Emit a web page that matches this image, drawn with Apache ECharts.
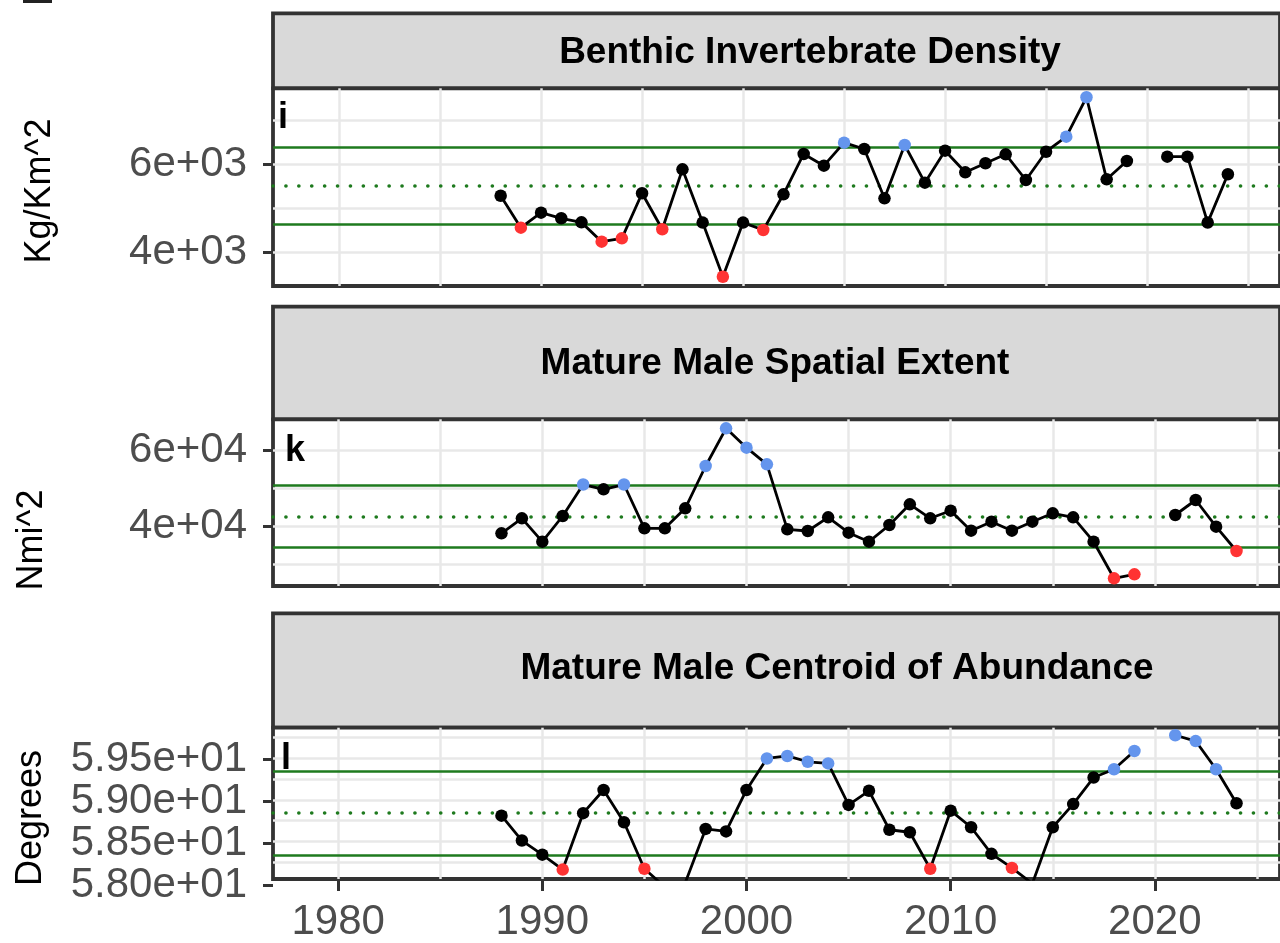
<!DOCTYPE html>
<html>
<head>
<meta charset="utf-8">
<title>Indicators</title>
<script src="https://cdn.jsdelivr.net/npm/echarts@6/dist/echarts.min.js"></script>
<style>
  html, body { margin: 0; padding: 0; background: #ffffff; }
  #chart { width: 1280px; height: 943px; }
</style>
</head>
<body>
<div id="chart"></div>
<script>
// ---- data ---------------------------------------------------------------
const years = [1988, 1989, 1990, 1991, 1992, 1993, 1994, 1995, 1996, 1997,
               1998, 1999, 2000, 2001, 2002, 2003, 2004, 2005, 2006, 2007,
               2008, 2009, 2010, 2011, 2012, 2013, 2014, 2015, 2016, 2017,
               2018, 2019, 2020, 2021, 2022, 2023, 2024];

// Benthic invertebrate density (kg/km^2); no survey in 2020
const benthicDensity = [5286, 4559, 4900, 4773, 4680, 4241, 4318, 5341, 4523, 5886,
                        4675, 3445, 4675, 4507, 5318, 6234, 5968, 6491, 6348, 5227,
                        6439, 5582, 6309, 5818, 6023, 6227, 5643, 6286, 6627, 7523,
                        5659, 6075, null, 6173, 6173, 4675, 5773];

// Mature male spatial extent (nmi^2)
const spatialExtent = [38263, 42210, 36053, 42816, 51100, 49842, 51100, 39579, 39579, 44842,
                       55974, 65895, 60790, 56421, 39316, 38868, 42474, 38421, 36053, 40447,
                       45895, 42210, 44210, 38947, 41316, 38947, 41316, 43526, 42474, 36053,
                       26421, 27474, null, 43079, 47026, 40000, 33605];

// Mature male centroid of abundance (degrees latitude)
const centroidLat = [58.81, 58.51, 58.34, 58.16, 58.84, 59.12, 58.73, 58.17, 57.95, 58.00,
                     58.65, 58.62, 59.12, 59.50, 59.53, 59.46, 59.44, 58.94, 59.11, 58.64,
                     58.61, 58.17, 58.87, 58.67, 58.35, 58.18, 57.99, 58.67, 58.95, 59.27,
                     59.37, 59.59, null, 59.78, 59.71, 59.37, 58.96];

// Reference lines: [mean - 1 SD, mean, mean + 1 SD]
const benthicLimits  = [4643, 5507, 6377];
const spatialLimits  = [34700, 42650, 50900];
const centroidLimits = [58.325, 58.84, 59.355];

// Tick labels and grid lines
const xLabelYears = [1980, 1990, 2000, 2010, 2020];
const xGridYears  = [1980, 1985, 1990, 1995, 2000, 2005, 2010, 2015, 2020, 2025];
const benthicTicks  = [4000, 6000];
const benthicGrid   = [4000, 5000, 6000, 7000];
const spatialTicks  = [40000, 60000];
const spatialGrid   = [30000, 40000, 50000, 60000];
const centroidTicks = [58.0, 58.5, 59.0, 59.5];
const centroidGrid  = [58.25, 58.5, 58.75, 59.0, 59.25, 59.5, 59.75];

// ---- styling ------------------------------------------------------------
const FONT = '"Liberation Sans", Arial, Helvetica, sans-serif';
const COL_ABOVE = '#6495ED';
const COL_BELOW = '#FF3333';
const COL_MID = '#000000';
const COL_REF = '#1E7A1E';
const COL_BORDER = '#333333';
const COL_GRID = '#E8E8E8';
const COL_TICKTEXT = '#4D4D4D';

// ggplot-style scientific labels: 6e+03, 5.95e+01
function sci(v, digits) {
  const parts = Number(v).toExponential(digits).split('e');
  const sign = parts[1][0] === '-' ? '-' : '+';
  const ex = String(Math.abs(parseInt(parts[1], 10))).padStart(2, '0');
  return parts[0] + 'e' + sign + ex;
}

const panels = [
  {
    title: 'Benthic Invertebrate Density', letter: 'i', yName: 'Kg/Km^2',
    values: benthicDensity, limits: benthicLimits,
    ticks: benthicTicks, gridVals: benthicGrid, digits: 0,
    yRange: [3234, 7727], xRange: [1976.73, 2026.58],
    strip: [13.3, 88.3], plot: [88.3, 286],
    titlePos: [810, 53], letterPos: [278, 118], namePos: [40, 191]
  },
  {
    title: 'Mature Male Spatial Extent', letter: 'k', yName: 'Nmi^2',
    values: spatialExtent, limits: spatialLimits,
    ticks: spatialTicks, gridVals: spatialGrid, digits: 0,
    yRange: [24395, 68263], xRange: [1976.81, 2026.13],
    strip: [306.7, 419.3], plot: [419.3, 586],
    titlePos: [775, 364], letterPos: [285, 451], namePos: [32, 540]
  },
  {
    title: 'Mature Male Centroid of Abundance', letter: 'l', yName: 'Degrees',
    values: centroidLat, limits: centroidLimits,
    ticks: centroidTicks, gridVals: centroidGrid, digits: 2,
    yRange: [58.046, 59.871], xRange: [1976.81, 2026.13],
    // the tick labels of this panel run down to 58.0, just past the clipped frame
    labelRange: [58.0, 59.871], labelBottom: 885.7,
    strip: [613.3, 727.7], plot: [727.7, 882],
    titlePos: [837, 669], letterPos: [281, 759], namePos: [31, 818]
  }
];

const PANEL_LEFT = 273;
const PANEL_RIGHT = -4;   // frames continue past the right edge

const grids = [], xAxes = [], yAxes = [], series = [], graphics = [];

function hiddenAxes(gridIndex) {
  xAxes.push({ gridIndex, type: 'value', show: false, min: 0, max: 1 });
  yAxes.push({ gridIndex, type: 'value', show: false, min: 0, max: 1 });
}

function pointColor(v, lim) {
  if (v > lim[2]) return COL_ABOVE;
  if (v < lim[0]) return COL_BELOW;
  return COL_MID;
}

const tickLabelStyle = {
  fontFamily: FONT, fontSize: 42, color: COL_TICKTEXT
};

panels.forEach((p, pi) => {
  // strip header
  const stripIdx = grids.length;
  grids.push({
    left: PANEL_LEFT, right: PANEL_RIGHT, top: p.strip[0], height: p.strip[1] - p.strip[0],
    show: true, backgroundColor: '#D9D9D9', borderColor: COL_BORDER, borderWidth: 3.8
  });
  hiddenAxes(stripIdx);

  // plotting area
  const plotIdx = grids.length;
  grids.push({
    left: PANEL_LEFT, right: PANEL_RIGHT, top: p.plot[0], height: p.plot[1] - p.plot[0],
    show: true, backgroundColor: '#FFFFFF', borderColor: COL_BORDER, borderWidth: 3.8
  });

  const xGridAxis = xAxes.length;
  xAxes.push({
    gridIndex: plotIdx, type: 'value', position: 'bottom',
    min: p.xRange[0], max: p.xRange[1],
    axisLine: { show: false },
    axisTick: { show: false, customValues: xGridYears },
    axisLabel: { show: false },
    splitLine: { show: true, lineStyle: { color: COL_GRID, width: 2.5 } }
  });
  const yGridAxis = yAxes.length;
  yAxes.push({
    gridIndex: plotIdx, type: 'value', position: 'left',
    min: p.yRange[0], max: p.yRange[1],
    axisLine: { show: false },
    axisTick: { show: false, customValues: p.gridVals },
    axisLabel: { show: false },
    splitLine: { show: true, lineStyle: { color: COL_GRID, width: 2.5 } }
  });

  // y tick marks + labels
  let labelGrid = plotIdx, labelRange = p.yRange;
  if (p.labelRange) {
    labelGrid = grids.length;
    grids.push({
      left: PANEL_LEFT, right: PANEL_RIGHT, top: p.plot[0], height: p.labelBottom - p.plot[0],
      show: false
    });
    xAxes.push({ gridIndex: labelGrid, type: 'value', show: false, min: 0, max: 1 });
    labelRange = p.labelRange;
  }
  yAxes.push({
    gridIndex: labelGrid, type: 'value', position: 'left',
    min: labelRange[0], max: labelRange[1],
    axisLine: { show: false },
    axisTick: { show: true, inside: false, length: 10, customValues: p.ticks,
                lineStyle: { color: COL_BORDER, width: 3 } },
    axisLabel: Object.assign({
      show: true, margin: 26, customValues: p.ticks,
      formatter: (v) => sci(v, p.digits)
    }, tickLabelStyle),
    splitLine: { show: false }
  });

  // shared year axis under the last panel
  if (pi === panels.length - 1) {
    xAxes.push({
      gridIndex: plotIdx, type: 'value', position: 'bottom',
      min: p.xRange[0], max: p.xRange[1],
      axisLine: { show: false },
      axisTick: { show: true, inside: false, length: 12, customValues: xLabelYears,
                  lineStyle: { color: COL_BORDER, width: 3 } },
      axisLabel: Object.assign({
        show: true, margin: 22, customValues: xLabelYears,
        formatter: (v) => String(Math.round(v))
      }, tickLabelStyle),
      splitLine: { show: false }
    });
  }

  // observations, coloured against the +/- 1 SD band
  const data = years.map((yr, i) => {
    const v = p.values[i];
    if (v === null) return { value: [yr, null] };
    return { value: [yr, v], itemStyle: { color: pointColor(v, p.limits) } };
  });

  series.push({
    type: 'line',
    xAxisIndex: xGridAxis, yAxisIndex: yGridAxis,
    data,
    clip: true,
    connectNulls: false,
    symbol: 'circle', symbolSize: 12.5, showSymbol: true,
    lineStyle: { color: '#000000', width: 2.8 },
    itemStyle: { color: COL_MID },
    emphasis: { disabled: true },
    silent: true,
    z: 3,
    markLine: {
      silent: true, z: 1, animation: false,
      symbol: ['none', 'none'],
      label: { show: false },
      data: [
        { yAxis: p.limits[2], lineStyle: { color: COL_REF, width: 2.6, type: 'solid' } },
        { yAxis: p.limits[1], lineStyle: { color: COL_REF, width: 3.6, type: [0.1, 12.8], cap: 'round' } },
        { yAxis: p.limits[0], lineStyle: { color: COL_REF, width: 2.6, type: 'solid' } }
      ]
    }
  });

  // strip title, panel letter, y-axis title
  graphics.push({
    type: 'text', x: p.titlePos[0], y: p.titlePos[1], z: 10,
    style: { text: p.title, fontFamily: FONT, fontWeight: 'bold', fontSize: 37,
             fill: '#000000', align: 'center', verticalAlign: 'middle' }
  });
  graphics.push({
    type: 'text', x: p.letterPos[0], y: p.letterPos[1], z: 10,
    style: { text: p.letter, fontFamily: FONT, fontWeight: 'bold', fontSize: 36,
             fill: '#000000', align: 'left', verticalAlign: 'middle' }
  });
  graphics.push({
    type: 'text', x: p.namePos[0], y: p.namePos[1], rotation: Math.PI / 2, z: 10,
    style: { text: p.yName, fontFamily: FONT, fontSize: 36,
             fill: '#000000', align: 'center', verticalAlign: 'middle' }
  });
});

// small rule in the top-left corner
graphics.push({
  type: 'rect', shape: { x: 23, y: 0, width: 29, height: 3 },
  style: { fill: '#222222' }, z: 10
});

const chart = echarts.init(document.getElementById('chart'), null, { renderer: 'canvas' });
chart.setOption({
  backgroundColor: '#FFFFFF',
  animation: false,
  textStyle: { fontFamily: FONT },
  grid: grids,
  xAxis: xAxes,
  yAxis: yAxes,
  series,
  graphic: { elements: graphics }
});
</script>
</body>
</html>
